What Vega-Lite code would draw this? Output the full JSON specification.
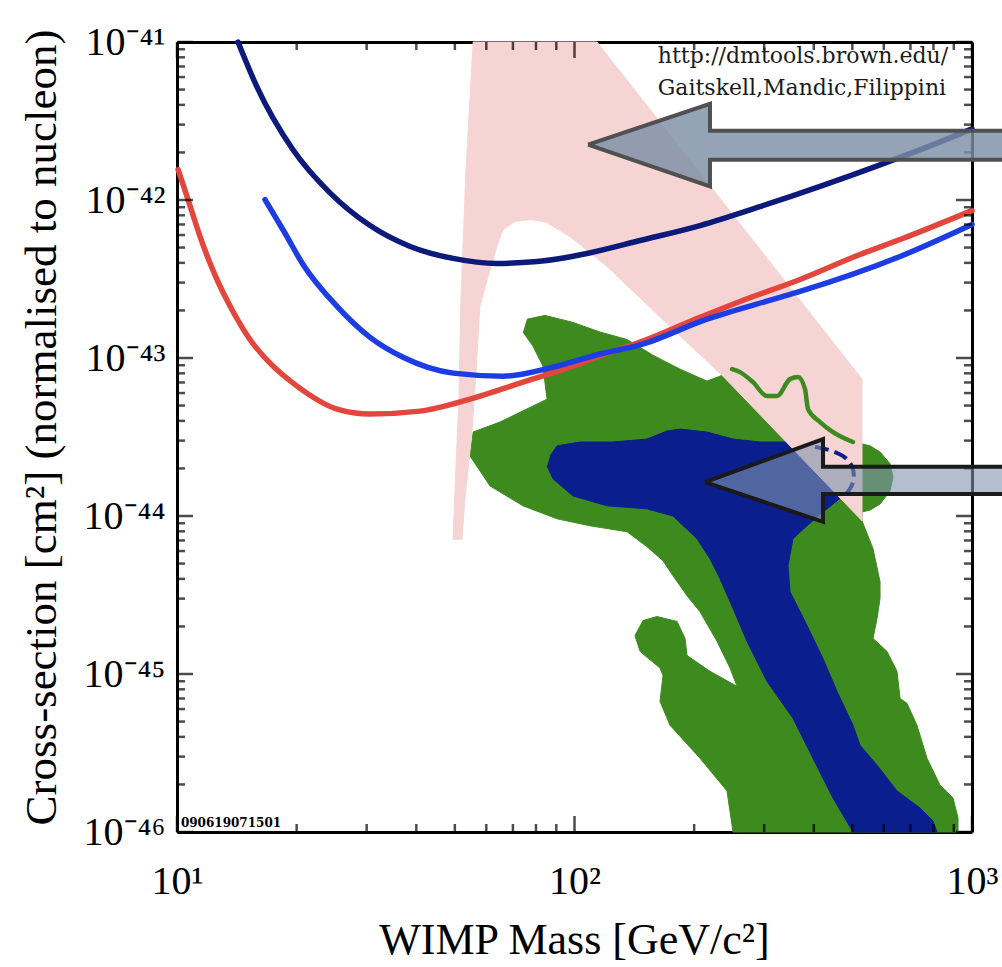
{
  "$schema": "https://vega.github.io/schema/vega-lite/v6.json",
  "width": 795,
  "height": 790,
  "autosize": {"type": "none"},
  "padding": {"left": 177, "top": 42, "right": 30, "bottom": 135},
  "background": "white",
  "config": {"view": {"stroke": null}, "axis": {"grid": false, "zindex": 1, "domainColor": "#000", "domainWidth": 3}},
  "datasets": {
    "susy95": [
      {"m": 75.9, "s": 1.76e-43}, {"m": 84.3, "s": 1.86e-43}, {"m": 99.1, "s": 1.68e-43}, {"m": 115.9, "s": 1.46e-43},
      {"m": 135.6, "s": 1.31e-43}, {"m": 157.6, "s": 1.04e-43}, {"m": 184.3, "s": 8.5e-44}, {"m": 215.4, "s": 7.14e-44},
      {"m": 232.3, "s": 7.67e-44}, {"m": 249.1, "s": 8.5e-44}, {"m": 281.2, "s": 7.14e-44}, {"m": 315.7, "s": 5.82e-44},
      {"m": 354.5, "s": 7.35e-44}, {"m": 373.5, "s": 7.03e-44}, {"m": 384.5, "s": 5.11e-44}, {"m": 414.7, "s": 3.99e-44},
      {"m": 465.6, "s": 3.26e-44}, {"m": 501.9, "s": 2.94e-44}, {"m": 528.8, "s": 2.86e-44}, {"m": 553.9, "s": 2.78e-44},
      {"m": 587.0, "s": 2.54e-44}, {"m": 622.0, "s": 2.14e-44}, {"m": 632.9, "s": 1.77e-44}, {"m": 622.0, "s": 1.44e-44},
      {"m": 587.0, "s": 1.19e-44}, {"m": 553.9, "s": 1.09e-44}, {"m": 528.8, "s": 1.06e-44}, {"m": 528.8, "s": 9.33e-45},
      {"m": 563.6, "s": 6.21e-45}, {"m": 587.0, "s": 3.84e-45}, {"m": 587.0, "s": 3.0e-45}, {"m": 576.8, "s": 2.24e-45},
      {"m": 563.6, "s": 1.68e-45}, {"m": 611.3, "s": 1.39e-45}, {"m": 647.6, "s": 1.04e-45}, {"m": 659.1, "s": 7.01e-46},
      {"m": 686.2, "s": 6.52e-46}, {"m": 727.0, "s": 4.74e-46}, {"m": 770.6, "s": 2.93e-46}, {"m": 830.9, "s": 1.98e-46},
      {"m": 895.9, "s": 1.64e-46}, {"m": 922.1, "s": 1.23e-46}, {"m": 922.1, "s": 1e-46}, {"m": 250.5, "s": 1e-46},
      {"m": 241.9, "s": 1.82e-46}, {"m": 206.9, "s": 2.93e-46}, {"m": 173.9, "s": 4.74e-46}, {"m": 164.1, "s": 6.71e-46},
      {"m": 167.0, "s": 9.8e-46}, {"m": 164.1, "s": 1.09e-45}, {"m": 146.2, "s": 1.39e-45}, {"m": 142.0, "s": 1.75e-45},
      {"m": 148.7, "s": 2.18e-45}, {"m": 161.3, "s": 2.31e-45}, {"m": 181.1, "s": 2.15e-45}, {"m": 189.7, "s": 1.68e-45},
      {"m": 191.9, "s": 1.31e-45}, {"m": 219.2, "s": 1.04e-45}, {"m": 256.4, "s": 8.35e-46}, {"m": 246.2, "s": 1.09e-45},
      {"m": 228.3, "s": 1.61e-45}, {"m": 206.9, "s": 2.48e-45}, {"m": 191.9, "s": 3.13e-45}, {"m": 176.9, "s": 4.19e-45},
      {"m": 167.0, "s": 5.21e-45}, {"m": 152.2, "s": 6.39e-45}, {"m": 135.6, "s": 7.95e-45}, {"m": 109.4, "s": 8.67e-45},
      {"m": 90.4, "s": 9.6e-45}, {"m": 74.2, "s": 1.16e-44}, {"m": 61.3, "s": 1.55e-44}, {"m": 54.6, "s": 2.4e-44},
      {"m": 55.6, "s": 3.4e-44}, {"m": 64.9, "s": 3.93e-44}, {"m": 85.3, "s": 5.49e-44}, {"m": 83.3, "s": 8.88e-44},
      {"m": 78.6, "s": 1.19e-43}, {"m": 74.2, "s": 1.46e-43}
    ],
    "susy68": [
      {"m": 86.8, "s": 2.4e-44}, {"m": 90.4, "s": 2.78e-44}, {"m": 103.2, "s": 2.94e-44}, {"m": 125.0, "s": 2.94e-44},
      {"m": 152.2, "s": 3.07e-44}, {"m": 170.9, "s": 3.45e-44}, {"m": 184.3, "s": 3.55e-44}, {"m": 215.4, "s": 3.4e-44},
      {"m": 250.5, "s": 3.07e-44}, {"m": 292.9, "s": 2.94e-44}, {"m": 342.4, "s": 2.94e-44}, {"m": 422.0, "s": 2.58e-44},
      {"m": 465.6, "s": 2.47e-44}, {"m": 501.9, "s": 2.2e-44}, {"m": 507.8, "s": 1.72e-44}, {"m": 493.3, "s": 1.42e-44},
      {"m": 473.7, "s": 1.34e-44}, {"m": 422.0, "s": 1.06e-44}, {"m": 384.5, "s": 8.67e-45}, {"m": 354.5, "s": 7.18e-45},
      {"m": 344.4, "s": 4.85e-45}, {"m": 348.4, "s": 3.32e-45}, {"m": 384.5, "s": 2.03e-45}, {"m": 422.0, "s": 1.25e-45},
      {"m": 457.5, "s": 7.77e-46}, {"m": 501.9, "s": 4.74e-46}, {"m": 522.8, "s": 3.54e-46}, {"m": 576.8, "s": 2.65e-46},
      {"m": 647.6, "s": 1.82e-46}, {"m": 740.0, "s": 1.42e-46}, {"m": 798.0, "s": 1.17e-46}, {"m": 816.5, "s": 1e-46},
      {"m": 501.9, "s": 1e-46}, {"m": 447.0, "s": 1.64e-46}, {"m": 398.1, "s": 2.93e-46}, {"m": 354.5, "s": 5.24e-46},
      {"m": 305.0, "s": 8.98e-46}, {"m": 271.6, "s": 1.61e-45}, {"m": 250.5, "s": 2.6e-45}, {"m": 232.3, "s": 4.01e-45},
      {"m": 219.2, "s": 5.37e-45}, {"m": 203.3, "s": 7.18e-45}, {"m": 176.9, "s": 1.0e-44}, {"m": 152.2, "s": 1.11e-44},
      {"m": 120.7, "s": 1.16e-44}, {"m": 99.1, "s": 1.34e-44}, {"m": 88.3, "s": 1.72e-44}, {"m": 85.3, "s": 2.07e-44}
    ],
    "allowed": [
      {"m": 49.5, "s": 7.07e-45}, {"m": 50.3, "s": 1.99e-44}, {"m": 51.2, "s": 5.49e-44}, {"m": 51.8, "s": 2.35e-43},
      {"m": 53.3, "s": 1.49e-42}, {"m": 55.6, "s": 1e-41}, {"m": 113.9, "s": 1e-41}, {"m": 528.8, "s": 7.35e-44},
      {"m": 528.8, "s": 9.33e-45}, {"m": 236.4, "s": 7.67e-44}, {"m": 176.9, "s": 1.52e-43}, {"m": 120.7, "s": 3.8e-43},
      {"m": 97.4, "s": 5.87e-43}, {"m": 84.3, "s": 7.3e-43}, {"m": 77.3, "s": 7.52e-43}, {"m": 70.8, "s": 7.3e-43},
      {"m": 66.1, "s": 6.5e-43}, {"m": 63.8, "s": 5.08e-43}, {"m": 60.3, "s": 3.14e-43}, {"m": 57.8, "s": 2.12e-43},
      {"m": 56.5, "s": 8.14e-44}, {"m": 55.2, "s": 3.4e-44}, {"m": 53.0, "s": 1.28e-44}, {"m": 52.1, "s": 7.07e-45}
    ],
    "edge95": [
      {"m": 249.1, "s": 8.5e-44}, {"m": 260.9, "s": 8.14e-44}, {"m": 281.2, "s": 7.03e-44}, {"m": 305.0, "s": 5.74e-44},
      {"m": 323.1, "s": 5.74e-44}, {"m": 348.4, "s": 7.35e-44}, {"m": 365.0, "s": 7.57e-44}, {"m": 380.1, "s": 6.35e-44},
      {"m": 386.8, "s": 4.75e-44}, {"m": 414.7, "s": 3.93e-44}, {"m": 447.0, "s": 3.4e-44}, {"m": 501.9, "s": 2.94e-44}
    ],
    "edge68": [
      {"m": 402.7, "s": 2.74e-44}, {"m": 439.4, "s": 2.62e-44}, {"m": 473.7, "s": 2.43e-44}, {"m": 499.0, "s": 2.14e-44},
      {"m": 507.8, "s": 1.77e-44}, {"m": 496.1, "s": 1.49e-44}, {"m": 479.1, "s": 1.36e-44}
    ],
    "limitRed": [
      {"m": 10.06, "s": 1.56e-42}, {"m": 10.66, "s": 1.006e-42}, {"m": 11.43, "s": 5.87e-43}, {"m": 12.6, "s": 3.14e-43},
      {"m": 13.83, "s": 1.97e-43}, {"m": 15.26, "s": 1.31e-43}, {"m": 17.14, "s": 9.27e-44}, {"m": 20.04, "s": 6.64e-44},
      {"m": 25.27, "s": 4.75e-44}, {"m": 30.6, "s": 4.42e-44}, {"m": 40.9, "s": 4.61e-44}, {"m": 54.6, "s": 5.49e-44},
      {"m": 72.9, "s": 6.93e-44}, {"m": 97.4, "s": 8.75e-44}, {"m": 115.9, "s": 1.03e-43}, {"m": 146.2, "s": 1.26e-43},
      {"m": 206.9, "s": 1.81e-43}, {"m": 260.9, "s": 2.28e-43}, {"m": 369.3, "s": 3.14e-43}, {"m": 522.8, "s": 4.52e-43},
      {"m": 659.1, "s": 5.62e-43}, {"m": 1000, "s": 8.57e-43}
    ],
    "limitBlue": [
      {"m": 16.65, "s": 1.006e-42}, {"m": 18.59, "s": 6.32e-43}, {"m": 20.75, "s": 3.91e-43}, {"m": 25.27, "s": 2.12e-43},
      {"m": 30.6, "s": 1.35e-43}, {"m": 37.04, "s": 1.01e-43}, {"m": 49.5, "s": 8.02e-44}, {"m": 66.1, "s": 7.67e-44},
      {"m": 88.3, "s": 8.75e-44}, {"m": 115.9, "s": 1.06e-43}, {"m": 146.2, "s": 1.21e-43}, {"m": 215.4, "s": 1.76e-43},
      {"m": 315.7, "s": 2.35e-43}, {"m": 369.3, "s": 2.64e-43}, {"m": 659.1, "s": 4.39e-43}, {"m": 1000, "s": 7.0e-43}
    ],
    "limitNavy": [
      {"m": 14.24, "s": 1e-41}, {"m": 15.89, "s": 5.2e-42}, {"m": 19.58, "s": 2.08e-42}, {"m": 24.26, "s": 1.11e-42},
      {"m": 30.6, "s": 6.89e-43}, {"m": 38.6, "s": 5.08e-43}, {"m": 49.5, "s": 4.27e-43}, {"m": 63.8, "s": 3.97e-43},
      {"m": 80.5, "s": 4.08e-43}, {"m": 107.5, "s": 4.59e-43}, {"m": 146.2, "s": 5.54e-43}, {"m": 206.9, "s": 6.89e-43},
      {"m": 292.9, "s": 9.08e-43}, {"m": 414.7, "s": 1.22e-42}, {"m": 587.0, "s": 1.67e-42}, {"m": 784.0, "s": 2.2e-42},
      {"m": 1000, "s": 2.82e-42}
    ],
    "arrowUpper": [
      {"m": 108.2, "s": 2.24e-42}, {"m": 219.2, "s": 4.06e-42}, {"m": 219.2, "s": 2.74e-42}, {"m": 1250, "s": 2.74e-42},
      {"m": 1250, "s": 1.8e-42}, {"m": 219.2, "s": 1.8e-42}, {"m": 219.2, "s": 1.22e-42}, {"m": 108.2, "s": 2.24e-42}
    ],
    "arrowLower": [
      {"m": 213.0, "s": 1.64e-44}, {"m": 421.9, "s": 3.07e-44}, {"m": 421.9, "s": 2.05e-44}, {"m": 1250, "s": 2.05e-44},
      {"m": 1250, "s": 1.38e-44}, {"m": 421.9, "s": 1.38e-44}, {"m": 421.9, "s": 9.19e-45}, {"m": 213.0, "s": 1.64e-44}
    ],
    "massMajor": [{"v": 10}, {"v": 100}, {"v": 1000}],
    "massMinor": [
      {"v": 20}, {"v": 30}, {"v": 40}, {"v": 50}, {"v": 60}, {"v": 70}, {"v": 80}, {"v": 90},
      {"v": 200}, {"v": 300}, {"v": 400}, {"v": 500}, {"v": 600}, {"v": 700}, {"v": 800}, {"v": 900}
    ],
    "sigmaMajor": [{"v": 1e-46}, {"v": 1e-45}, {"v": 1e-44}, {"v": 1e-43}, {"v": 1e-42}, {"v": 1e-41}],
    "sigmaMinor": [
      {"v": 2e-46}, {"v": 3e-46}, {"v": 4e-46}, {"v": 5e-46}, {"v": 6e-46}, {"v": 7e-46}, {"v": 8e-46}, {"v": 9e-46},
      {"v": 2e-45}, {"v": 3e-45}, {"v": 4e-45}, {"v": 5e-45}, {"v": 6e-45}, {"v": 7e-45}, {"v": 8e-45}, {"v": 9e-45},
      {"v": 2e-44}, {"v": 3e-44}, {"v": 4e-44}, {"v": 5e-44}, {"v": 6e-44}, {"v": 7e-44}, {"v": 8e-44}, {"v": 9e-44},
      {"v": 2e-43}, {"v": 3e-43}, {"v": 4e-43}, {"v": 5e-43}, {"v": 6e-43}, {"v": 7e-43}, {"v": 8e-43}, {"v": 9e-43},
      {"v": 2e-42}, {"v": 3e-42}, {"v": 4e-42}, {"v": 5e-42}, {"v": 6e-42}, {"v": 7e-42}, {"v": 8e-42}, {"v": 9e-42}
    ]
  },
  "layer": [
    {
      "data": {"name": "susy95"},
      "mark": {"type": "line", "fill": "#3d8b1f", "stroke": "#3d8b1f", "strokeWidth": 1, "clip": false},
      "encoding": {
        "x": {
          "field": "m", "type": "quantitative",
          "scale": {"type": "log", "domain": [10, 1000], "nice": false},
          "axis": {
            "orient": "bottom", "values": [10, 100, 1000], "ticks": false, "domain": true,
            "labelExpr": "['10¹','10²','10³'][round(log(datum.value)/LN10) - 1]",
            "labelFont": "Liberation Serif", "labelFontSize": 40, "labelColor": "#000",
            "labelPadding": 29, "labelFlush": false, "labelOverlap": false, "labelBound": false,
            "title": "WIMP Mass [GeV/c²]", "titleFont": "Liberation Serif", "titleFontSize": 44,
            "titleFontWeight": "normal", "titleColor": "#000",
            "titleX": 397, "titleY": 121, "titleBaseline": "alphabetic", "titleAlign": "center"
          }
        },
        "y": {
          "field": "s", "type": "quantitative",
          "scale": {"type": "log", "domain": [1e-46, 1e-41], "nice": false},
          "axis": {
            "orient": "left", "values": [1e-46, 1e-45, 1e-44, 1e-43, 1e-42, 1e-41], "ticks": false, "domain": true,
            "labelExpr": "['10⁻⁴⁶','10⁻⁴⁵','10⁻⁴⁴','10⁻⁴³','10⁻⁴²','10⁻⁴¹'][round(log(datum.value)/LN10) + 46]",
            "labelFont": "Liberation Serif", "labelFontSize": 40, "labelColor": "#000",
            "labelPadding": 12, "labelFlush": false, "labelOverlap": false, "labelBound": false,
            "title": "Cross-section [cm²] (normalised to nucleon)", "titleFont": "Liberation Serif", "titleFontSize": 45,
            "titleFontWeight": "normal", "titleColor": "#000",
            "titleX": -122, "titleY": 385, "titleAngle": -90, "titleBaseline": "alphabetic", "titleAlign": "center"
          }
        },
        "order": {"value": null}
      }
    },
    {
      "data": {"name": "susy68"},
      "mark": {"type": "line", "fill": "#0b1e8e", "stroke": "#0b1e8e", "strokeWidth": 1, "clip": false},
      "encoding": {
        "x": {
          "field": "m", "type": "quantitative",
          "axis": {"orient": "bottom", "offset": -790, "values": [10, 100, 1000], "labels": false, "title": null, "domain": true, "ticks": false}
        },
        "y": {
          "field": "s", "type": "quantitative",
          "axis": {"orient": "left", "offset": -795, "values": [1e-46, 1e-41], "labels": false, "title": null, "domain": true, "ticks": false}
        },
        "order": {"value": null}
      }
    },
    {
      "data": {"name": "allowed"},
      "mark": {"type": "line", "fill": "#f6d4d4", "stroke": "#f6d4d4", "strokeWidth": 1, "clip": false},
      "encoding": {
        "x": {"field": "m", "type": "quantitative", "axis": null},
        "y": {"field": "s", "type": "quantitative", "axis": null},
        "order": {"value": null}
      }
    },
    {
      "data": {"name": "edge95"},
      "mark": {"type": "line", "stroke": "#3d8b1f", "strokeWidth": 4.5, "interpolate": "monotone", "strokeCap": "round"},
      "encoding": {
        "x": {"field": "m", "type": "quantitative", "axis": null},
        "y": {"field": "s", "type": "quantitative", "axis": null},
        "order": {"value": null}
      }
    },
    {
      "data": {"name": "edge68"},
      "mark": {"type": "line", "stroke": "#0b1e8e", "strokeWidth": 4, "interpolate": "basis", "strokeDash": [14, 6]},
      "encoding": {
        "x": {"field": "m", "type": "quantitative", "axis": null},
        "y": {"field": "s", "type": "quantitative", "axis": null},
        "order": {"value": null}
      }
    },
    {
      "data": {"name": "limitRed"},
      "mark": {"type": "line", "stroke": "#e2463c", "strokeWidth": 5.5, "interpolate": "monotone", "strokeCap": "round"},
      "encoding": {
        "x": {"field": "m", "type": "quantitative", "axis": null},
        "y": {"field": "s", "type": "quantitative", "axis": null},
        "order": {"value": null}
      }
    },
    {
      "data": {"name": "limitBlue"},
      "mark": {"type": "line", "stroke": "#1c3de4", "strokeWidth": 5.5, "interpolate": "monotone", "strokeCap": "round"},
      "encoding": {
        "x": {"field": "m", "type": "quantitative", "axis": null},
        "y": {"field": "s", "type": "quantitative", "axis": null},
        "order": {"value": null}
      }
    },
    {
      "data": {"name": "limitNavy"},
      "mark": {"type": "line", "stroke": "#0c1a7a", "strokeWidth": 5.5, "interpolate": "monotone", "strokeCap": "round"},
      "encoding": {
        "x": {"field": "m", "type": "quantitative", "axis": null},
        "y": {"field": "s", "type": "quantitative", "axis": null},
        "order": {"value": null}
      }
    },
    {
      "data": {"name": "massMajor"},
      "mark": {"type": "tick", "orient": "vertical", "color": "#000", "size": 16, "thickness": 2.5, "yOffset": -8, "clip": false},
      "encoding": {
        "x": {"field": "v", "type": "quantitative", "axis": null},
        "y": {"value": "height"}
      }
    },
    {
      "data": {"name": "massMinor"},
      "mark": {"type": "tick", "orient": "vertical", "color": "#000", "size": 8, "thickness": 2.5, "yOffset": -4, "clip": false},
      "encoding": {
        "x": {"field": "v", "type": "quantitative", "axis": null},
        "y": {"value": "height"}
      }
    },
    {
      "data": {"name": "massMajor"},
      "mark": {"type": "tick", "orient": "vertical", "color": "#000", "size": 16, "thickness": 2.5, "yOffset": 8, "clip": false},
      "encoding": {
        "x": {"field": "v", "type": "quantitative", "axis": null},
        "y": {"value": 0}
      }
    },
    {
      "data": {"name": "massMinor"},
      "mark": {"type": "tick", "orient": "vertical", "color": "#000", "size": 8, "thickness": 2.5, "yOffset": 4, "clip": false},
      "encoding": {
        "x": {"field": "v", "type": "quantitative", "axis": null},
        "y": {"value": 0}
      }
    },
    {
      "data": {"name": "sigmaMajor"},
      "mark": {"type": "tick", "orient": "horizontal", "color": "#000", "size": 16, "thickness": 2.5, "xOffset": 8, "clip": false},
      "encoding": {
        "y": {"field": "v", "type": "quantitative", "axis": null},
        "x": {"value": 0}
      }
    },
    {
      "data": {"name": "sigmaMinor"},
      "mark": {"type": "tick", "orient": "horizontal", "color": "#000", "size": 8, "thickness": 2.5, "xOffset": 4, "clip": false},
      "encoding": {
        "y": {"field": "v", "type": "quantitative", "axis": null},
        "x": {"value": 0}
      }
    },
    {
      "data": {"name": "sigmaMajor"},
      "mark": {"type": "tick", "orient": "horizontal", "color": "#000", "size": 16, "thickness": 2.5, "xOffset": -8, "clip": false},
      "encoding": {
        "y": {"field": "v", "type": "quantitative", "axis": null},
        "x": {"value": "width"}
      }
    },
    {
      "data": {"name": "sigmaMinor"},
      "mark": {"type": "tick", "orient": "horizontal", "color": "#000", "size": 8, "thickness": 2.5, "xOffset": -4, "clip": false},
      "encoding": {
        "y": {"field": "v", "type": "quantitative", "axis": null},
        "x": {"value": "width"}
      }
    },
    {
      "data": {"name": "arrowUpper"},
      "mark": {"type": "line", "fill": "#7d90a6", "fillOpacity": 0.82, "stroke": "#505050", "strokeWidth": 4, "strokeJoin": "miter", "clip": false},
      "encoding": {
        "x": {"field": "m", "type": "quantitative", "axis": null},
        "y": {"field": "s", "type": "quantitative", "axis": null},
        "order": {"value": null}
      }
    },
    {
      "data": {"name": "arrowLower"},
      "mark": {"type": "line", "fill": "#8095ad", "fillOpacity": 0.6, "stroke": "#1a1a1a", "strokeWidth": 4, "strokeJoin": "miter", "clip": false},
      "encoding": {
        "x": {"field": "m", "type": "quantitative", "axis": null},
        "y": {"field": "s", "type": "quantitative", "axis": null},
        "order": {"value": null}
      }
    },
    {
      "data": {"values": [{}]},
      "mark": {"type": "text", "font": "DejaVu Serif", "fontSize": 22, "align": "left", "baseline": "alphabetic", "clip": true, "color": "#1a1a1a"},
      "encoding": {
        "x": {"datum": 162, "type": "quantitative", "axis": null},
        "y": {"datum": 7.37e-42, "type": "quantitative", "axis": null},
        "text": {"value": "http://dmtools.brown.edu/"}
      }
    },
    {
      "data": {"values": [{}]},
      "mark": {"type": "text", "font": "DejaVu Serif", "fontSize": 22, "align": "left", "baseline": "alphabetic", "clip": true, "color": "#1a1a1a"},
      "encoding": {
        "x": {"datum": 162, "type": "quantitative", "axis": null},
        "y": {"datum": 4.63e-42, "type": "quantitative", "axis": null},
        "text": {"value": "Gaitskell,Mandic,Filippini"}
      }
    },
    {
      "data": {"values": [{}]},
      "mark": {"type": "text", "font": "DejaVu Serif", "fontSize": 12, "fontWeight": "bold", "align": "left", "baseline": "alphabetic", "color": "#000"},
      "encoding": {
        "x": {"datum": 10.23, "type": "quantitative", "axis": null},
        "y": {"datum": 1.075e-46, "type": "quantitative", "axis": null},
        "text": {"value": "090619071501"}
      }
    }
  ],
  "resolve": {"axis": {"x": "independent", "y": "independent"}}
}
